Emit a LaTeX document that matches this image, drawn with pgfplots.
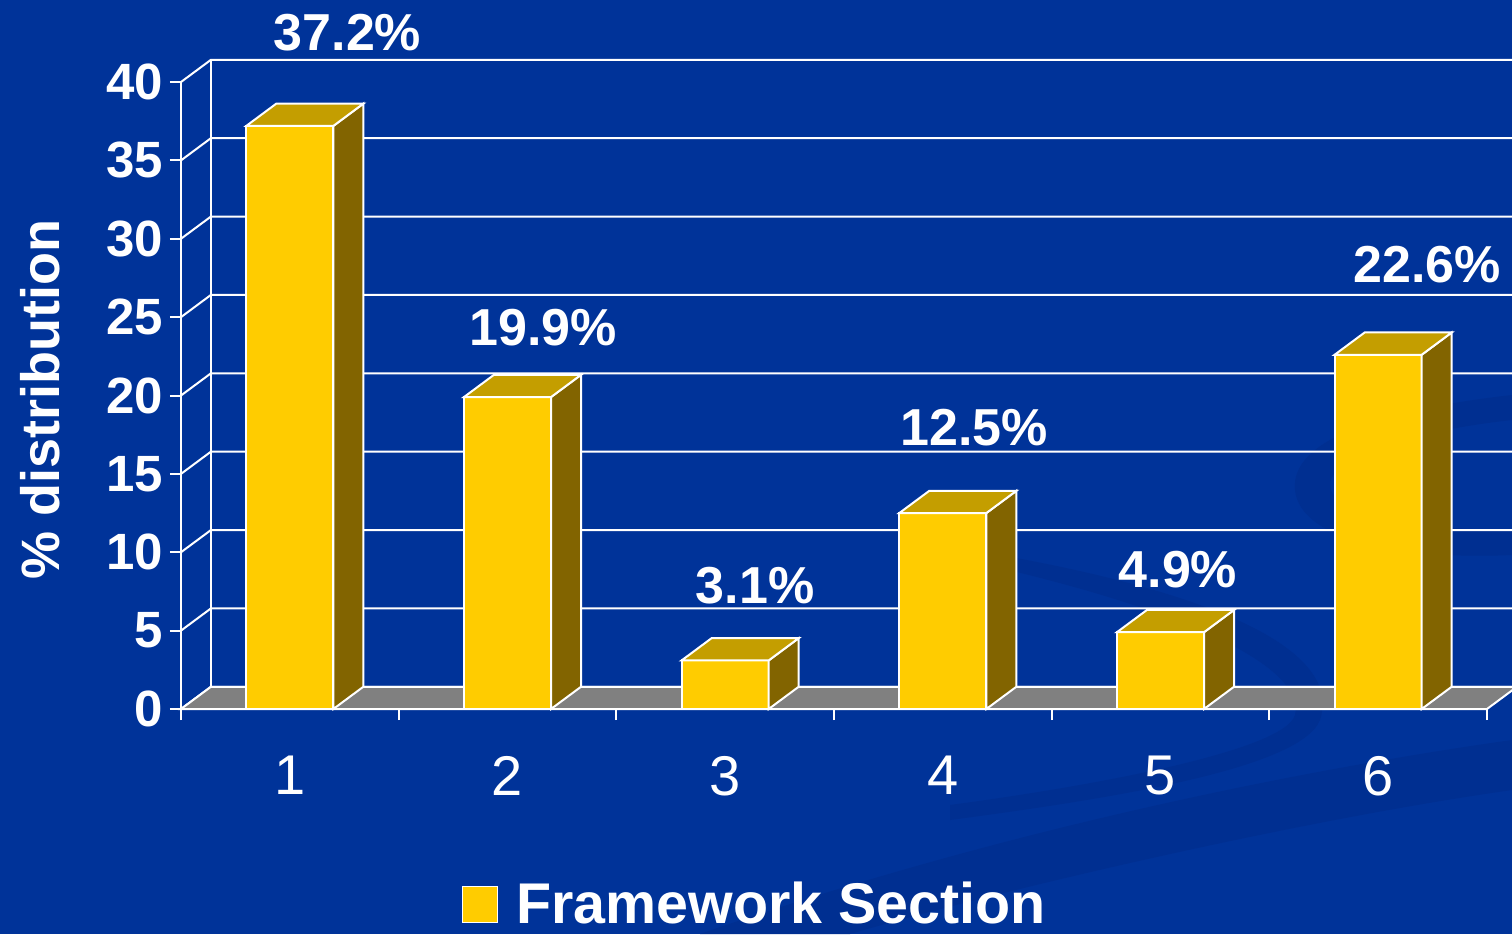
\documentclass[border=0pt]{standalone}
\usepackage{fontspec}
\setmainfont{Liberation Sans}
\usepackage{pgfplots}
\pgfplotsset{compat=1.18}
\usepackage{pgfplotstable}
\definecolor{bg}{RGB}{0,51,153}
\definecolor{swirl}{RGB}{0,47,145}
\definecolor{barfront}{RGB}{255,204,0}
\definecolor{bartop}{RGB}{196,158,0}
\definecolor{barside}{RGB}{130,100,0}
\definecolor{floorgray}{RGB}{128,128,128}

\pgfplotstableread{
x v
1 37.2
2 19.9
3 3.1
4 12.5
5 4.9
6 22.6
}\datatable

% top and side faces of a 3-D bar: #1 = category, #2 = value
\newcommand{\barfaces}[2]{%
  \pgfmathsetmacro{\xl}{#1-0.2}%
  \pgfmathsetmacro{\xr}{#1+0.2}%
  \pgfmathsetmacro{\xlb}{#1-0.2+0.1378}%
  \pgfmathsetmacro{\xrb}{#1+0.2+0.1378}%
  \pgfmathsetmacro{\vb}{#2+1.42}%
  \edef\temp{\noexpand\addplot[fill=barside,draw=white,line width=1pt] coordinates {(\xr,0) (\xrb,1.42) (\xrb,\vb) (\xr,#2)} -- cycle;}\temp
  \edef\temp{\noexpand\addplot[fill=bartop,draw=white,line width=1pt] coordinates {(\xl,#2) (\xlb,\vb) (\xrb,\vb) (\xr,#2)} -- cycle;}\temp
}

\begin{document}
\begin{tikzpicture}
\fill[bg] (-90.5pt,-112.5pt) rectangle (665.5pt,354.5pt);
% faint background swirls of the slide
\begin{scope}[shift={(-90.5pt,354.5pt)}, x=0.5pt, y=-0.5pt]
\fill[swirl] (700,934) .. controls (1000,830) and (1300,770) .. (1512,740)
  -- (1512,790) .. controls (1300,820) and (1000,890) .. (850,934) -- cycle;
\fill[swirl] (1512,395) .. controls (1380,410) and (1290,440) .. (1295,490)
  .. controls (1300,540) and (1400,560) .. (1512,555) -- (1512,530)
  .. controls (1420,530) and (1330,515) .. (1330,485)
  .. controls (1330,455) and (1420,430) .. (1512,420) -- cycle;
\fill[swirl] (1000,555) .. controls (1250,600) and (1340,660) .. (1320,720)
  .. controls (1300,770) and (1100,800) .. (950,820) -- (950,805)
  .. controls (1100,785) and (1285,750) .. (1295,715)
  .. controls (1305,670) and (1200,615) .. (1000,568) -- cycle;
\end{scope}
\begin{axis}[at={(0pt,0pt)}, anchor=south west, scale only axis,
  width=653pt, height=313.5pt,
  xmin=0.5, xmax=6.5, ymin=0, ymax=40, clip=false,
  axis lines*=left, axis line style={white, line width=1pt},
  every tick/.style={white, line width=1pt}, tick align=outside,
  major tick length=5.5pt,
  ytick={0,5,...,40},
  xtick={0.5,1.5,...,6.5}, xticklabels={},
  extra x ticks={1,2,3,4,5,6},
  extra x tick labels={1,2,3,4,5,6},
  extra x tick style={major tick length=0pt,
    tick label style={font=\fontsize{28}{33}\selectfont, text=white, yshift=-20pt}},
  /pgf/number format/assume math mode=true,
  yticklabel style={font=\bfseries\fontsize{25.5}{30}\selectfont, text=white},
  ylabel={\% distribution},
  ylabel style={at={(axis description cs:-0.108,0.494)}, anchor=center,
    font=\bfseries\fontsize{27}{32}\selectfont, text=white},
  legend style={at={(0.2152,-0.311)}, anchor=west, draw=none, fill=none,
    text=white, font=\bfseries\fontsize{28.7}{34}\selectfont,
    inner sep=0pt, column sep=9pt, nodes={inner sep=0pt}},
]
\addlegendimage{legend image code/.code={\draw[fill=barfront,draw=white,line width=0.5pt] (0pt,-9pt) rectangle (17.5pt,9pt);}}
\addlegendentry{Framework Section}

% back wall grid (diagonal on the side wall, horizontal on the back wall)
\addplot[white, line width=1pt] coordinates {(0.5,0) (0.6378,1.42) (6.6378,1.42)};
\addplot[white, line width=1pt] coordinates {(0.5,5) (0.6378,6.42) (6.6378,6.42)};
\addplot[white, line width=1pt] coordinates {(0.5,10) (0.6378,11.42) (6.6378,11.42)};
\addplot[white, line width=1pt] coordinates {(0.5,15) (0.6378,16.42) (6.6378,16.42)};
\addplot[white, line width=1pt] coordinates {(0.5,20) (0.6378,21.42) (6.6378,21.42)};
\addplot[white, line width=1pt] coordinates {(0.5,25) (0.6378,26.42) (6.6378,26.42)};
\addplot[white, line width=1pt] coordinates {(0.5,30) (0.6378,31.42) (6.6378,31.42)};
\addplot[white, line width=1pt] coordinates {(0.5,35) (0.6378,36.42) (6.6378,36.42)};
\addplot[white, line width=1pt] coordinates {(0.5,40) (0.6378,41.42) (6.6378,41.42)};
\addplot[white, line width=1pt] coordinates {(0.6378,1.42) (0.6378,41.42)};

% floor
\addplot[fill=floorgray, draw=white, line width=1pt] coordinates {(0.5,0) (6.5,0) (6.6378,1.42) (0.6378,1.42)} -- cycle;

% bars
\addplot[ybar, bar width=0.4, fill=barfront, draw=white, line width=1pt] table[x=x, y=v] {\datatable};
\barfaces{1}{37.2}
\barfaces{2}{19.9}
\barfaces{3}{3.1}
\barfaces{4}{12.5}
\barfaces{5}{4.9}
\barfaces{6}{22.6}

% value labels
\addplot[draw=none, mark=none, point meta=explicit symbolic, nodes near coords,
  every node near coord/.style={anchor=base, inner sep=0pt, text=white,
    font=\bfseries\fontsize{26}{31}\selectfont}]
  coordinates {(1.265,42.04) [37.2\%] (2.163,23.16) [19.9\%] (3.137,6.76) [3.1\%]
               (4.143,16.84) [12.5\%] (5.080,7.72) [4.9\%] (6.224,27.18) [22.6\%]};
\end{axis}
\pgfresetboundingbox
\useasboundingbox (-90.5pt,-112.5pt) rectangle (665.5pt,354.5pt);
\end{tikzpicture}
\end{document}
